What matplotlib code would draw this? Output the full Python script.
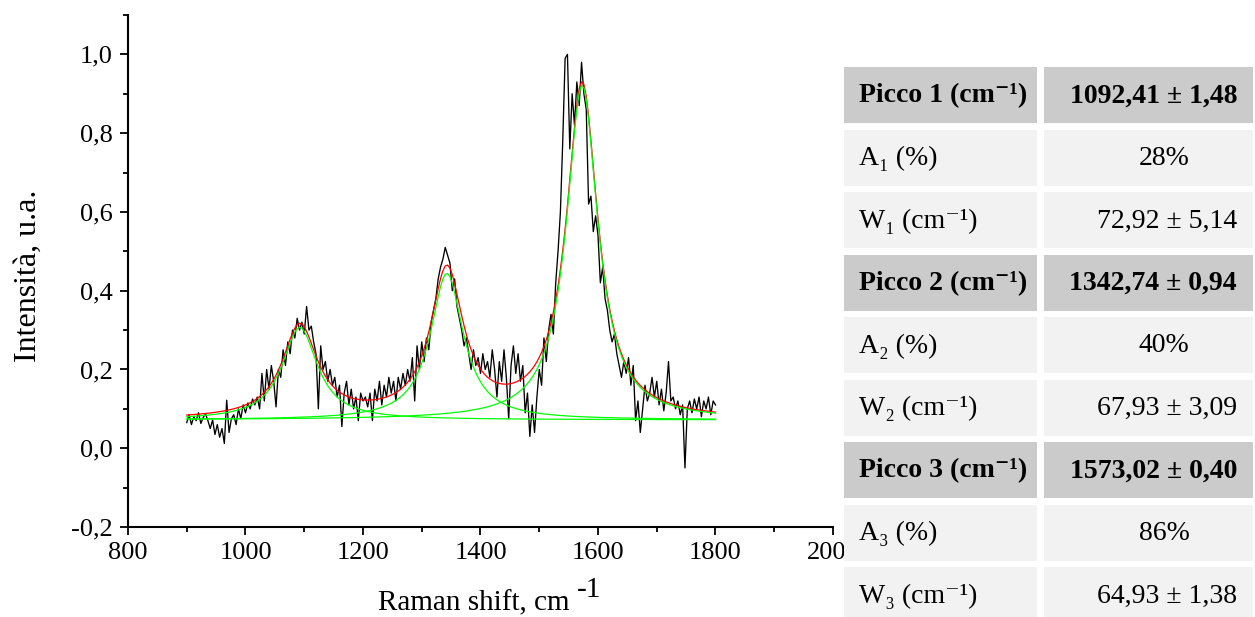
import numpy as np
import matplotlib
matplotlib.use("Agg")
import matplotlib.pyplot as plt
from matplotlib.patches import Rectangle
from matplotlib.ticker import MultipleLocator, FuncFormatter

plt.rcParams['font.family'] = ['Liberation Serif', 'DejaVu Serif']

# Raman spectrum, 900-1800 cm^-1, one reading every 4 cm^-1
shift_start, shift_step = 900, 4
intensity = [
    0.065, 0.085, 0.060, 0.080, 0.070, 0.090, 0.063, 0.078, 0.087, 0.070,
    0.050, 0.072, 0.035, 0.060, 0.028, 0.050, 0.012, 0.122, 0.040, 0.075,
    0.085, 0.060, 0.100, 0.075, 0.110, 0.090, 0.115, 0.100, 0.125, 0.110,
    0.130, 0.100, 0.190, 0.120, 0.200, 0.150, 0.210, 0.170, 0.105, 0.200,
    0.180, 0.250, 0.210, 0.270, 0.240, 0.300, 0.280, 0.330, 0.300, 0.320,
    0.290, 0.360, 0.300, 0.310, 0.270, 0.240, 0.100, 0.260, 0.200, 0.220,
    0.170, 0.200, 0.160, 0.180, 0.130, 0.160, 0.055, 0.140, 0.170, 0.110,
    0.150, 0.100, 0.130, 0.070, 0.140, 0.120, 0.130, 0.105, 0.140, 0.070,
    0.150, 0.120, 0.170, 0.110, 0.160, 0.130, 0.180, 0.140, 0.170, 0.120,
    0.180, 0.150, 0.190, 0.160, 0.200, 0.170, 0.230, 0.120, 0.260, 0.200,
    0.270, 0.220, 0.280, 0.250, 0.320, 0.350, 0.380, 0.430, 0.460, 0.480,
    0.510, 0.490, 0.470, 0.400, 0.430, 0.360, 0.330, 0.300, 0.260, 0.280,
    0.240, 0.200, 0.250, 0.210, 0.230, 0.190, 0.240, 0.200, 0.220, 0.180,
    0.250, 0.200, 0.130, 0.220, 0.170, 0.250, 0.180, 0.075, 0.210, 0.260,
    0.190, 0.240, 0.170, 0.210, 0.090, 0.140, 0.030, 0.110, 0.040, 0.130,
    0.200, 0.160, 0.280, 0.220, 0.300, 0.340, 0.290, 0.420, 0.500, 0.600,
    0.780, 0.990, 1.000, 0.760, 0.900, 0.820, 0.930, 0.870, 0.980, 0.900,
    0.860, 0.620, 0.640, 0.550, 0.590, 0.540, 0.420, 0.460, 0.380, 0.350,
    0.300, 0.270, 0.290, 0.240, 0.210, 0.180, 0.220, 0.190, 0.230, 0.160,
    0.210, 0.070, 0.120, 0.040, 0.100, 0.160, 0.120, 0.140, 0.180, 0.130,
    0.170, 0.110, 0.150, 0.095, 0.140, 0.220, 0.120, 0.130, 0.100, 0.120,
    0.085, 0.110, -0.050, 0.100, 0.120, 0.090, 0.125, 0.100, 0.130, 0.080,
    0.120, 0.100, 0.130, 0.085, 0.120, 0.110,
]
raman_shift = shift_start + shift_step * np.arange(len(intensity))

# Lorentzian fit: centres and widths (FWHM) from the fit report, heights above baseline
peak_centres = [1092.41, 1342.74, 1573.02]
peak_widths = [72.92, 67.93, 64.93]
peak_heights = [0.235, 0.372, 0.850]
fit_baseline = 0.072

# Fit report table
table_rows = [
    ("Picco 1 (cm⁻¹)", "1092,41 ± 1,48", True),
    ("A₁ (%)", "28%", False),
    ("W₁ (cm⁻¹)", "72,92 ± 5,14", False),
    ("Picco 2 (cm⁻¹)", "1342,74 ± 0,94", True),
    ("A₂ (%)", "40%", False),
    ("W₂ (cm⁻¹)", "67,93 ± 3,09", False),
    ("Picco 3 (cm⁻¹)", "1573,02 ± 0,40", True),
    ("A₃ (%)", "86%", False),
    ("W₃ (cm⁻¹)", "64,93 ± 1,38", False),
]

W, H = 1255, 617
fig = plt.figure(figsize=(W / 100, H / 100), dpi=100)
fig.patch.set_facecolor('white')

ax = fig.add_axes([128 / W, 1 - 527 / H, (833 - 128) / W, (527 - 15) / H])


def lorentz(x, c, w, h):
    return h / (1.0 + ((x - c) / (w / 2.0)) ** 2)


components = [fit_baseline + lorentz(raman_shift, c, w, h)
              for c, w, h in zip(peak_centres, peak_widths, peak_heights)]
total_fit = fit_baseline + sum(lorentz(raman_shift, c, w, h)
                               for c, w, h in zip(peak_centres, peak_widths, peak_heights))

ax.plot(raman_shift, intensity, color='black', lw=0.95, zorder=2)
ax.plot(raman_shift, total_fit, color='#ff0000', lw=0.9, zorder=3)
for comp in components:
    ax.plot(raman_shift, comp, color='#00ff00', lw=0.9, zorder=4)

ax.set_xlim(800, 2000)
ax.set_ylim(-0.2, 1.1)
ax.xaxis.set_major_locator(MultipleLocator(200))
ax.xaxis.set_minor_locator(MultipleLocator(100))
ax.yaxis.set_major_locator(MultipleLocator(0.2))
ax.yaxis.set_minor_locator(MultipleLocator(0.1))
ax.yaxis.set_major_formatter(FuncFormatter(lambda v, p: f"{v:.1f}".replace('.', ',').replace('-0,0', '0,0')))

for side in ('top', 'right'):
    ax.spines[side].set_visible(False)
for side in ('left', 'bottom'):
    ax.spines[side].set_linewidth(1.5)
ax.tick_params(which='major', direction='out', length=6, width=1.3, labelsize=19, pad=5)
ax.tick_params(which='minor', direction='out', length=3.5, width=1.3)

ax.set_xlabel("Raman shift, cm", fontsize=21)
ax.xaxis.label.set_va('baseline')
ax.xaxis.set_label_coords((474 - 128) / 705, (527 - 610) / 512)
fig.text(577 / W, 1 - 597 / H, "-1", fontsize=21, ha='left', va='baseline')

ax.set_ylabel("Intensità, u.a.", fontsize=23)
ax.yaxis.label.set_va('center')
ax.yaxis.set_label_coords((28 - 128) / 705, (527 - 276) / 512)

# Table drawn in pixel coordinates on a full-figure overlay
tab = fig.add_axes([0, 0, 1, 1], zorder=5)
tab.set_xlim(0, W)
tab.set_ylim(H, 0)
tab.axis('off')

row_top0, row_pitch, row_h = 67, 62.5, 56
col1_x0, col1_x1 = 844, 1037
col2_x0, col2_x1 = 1044, 1253
for i, (label, value, header) in enumerate(table_rows):
    y0 = row_top0 + i * row_pitch
    fc = '#cbcbcb' if header else '#f2f2f2'
    tab.add_patch(Rectangle((col1_x0, y0), col1_x1 - col1_x0, row_h, facecolor=fc, edgecolor='none'))
    tab.add_patch(Rectangle((col2_x0, y0), col2_x1 - col2_x0, row_h, facecolor=fc, edgecolor='none'))
    yc = y0 + row_h / 2 + 1
    weight = 'bold' if header else 'normal'
    tab.text(859, yc, label, fontsize=20, fontweight=weight, ha='left', va='center')
    if value.endswith('%'):
        tab.text(1164, yc, value, fontsize=20, fontweight=weight, ha='center', va='center')
    else:
        tab.text(1237, yc, value, fontsize=20, fontweight=weight, ha='right', va='center')

fig.savefig('out.png', dpi=100)
